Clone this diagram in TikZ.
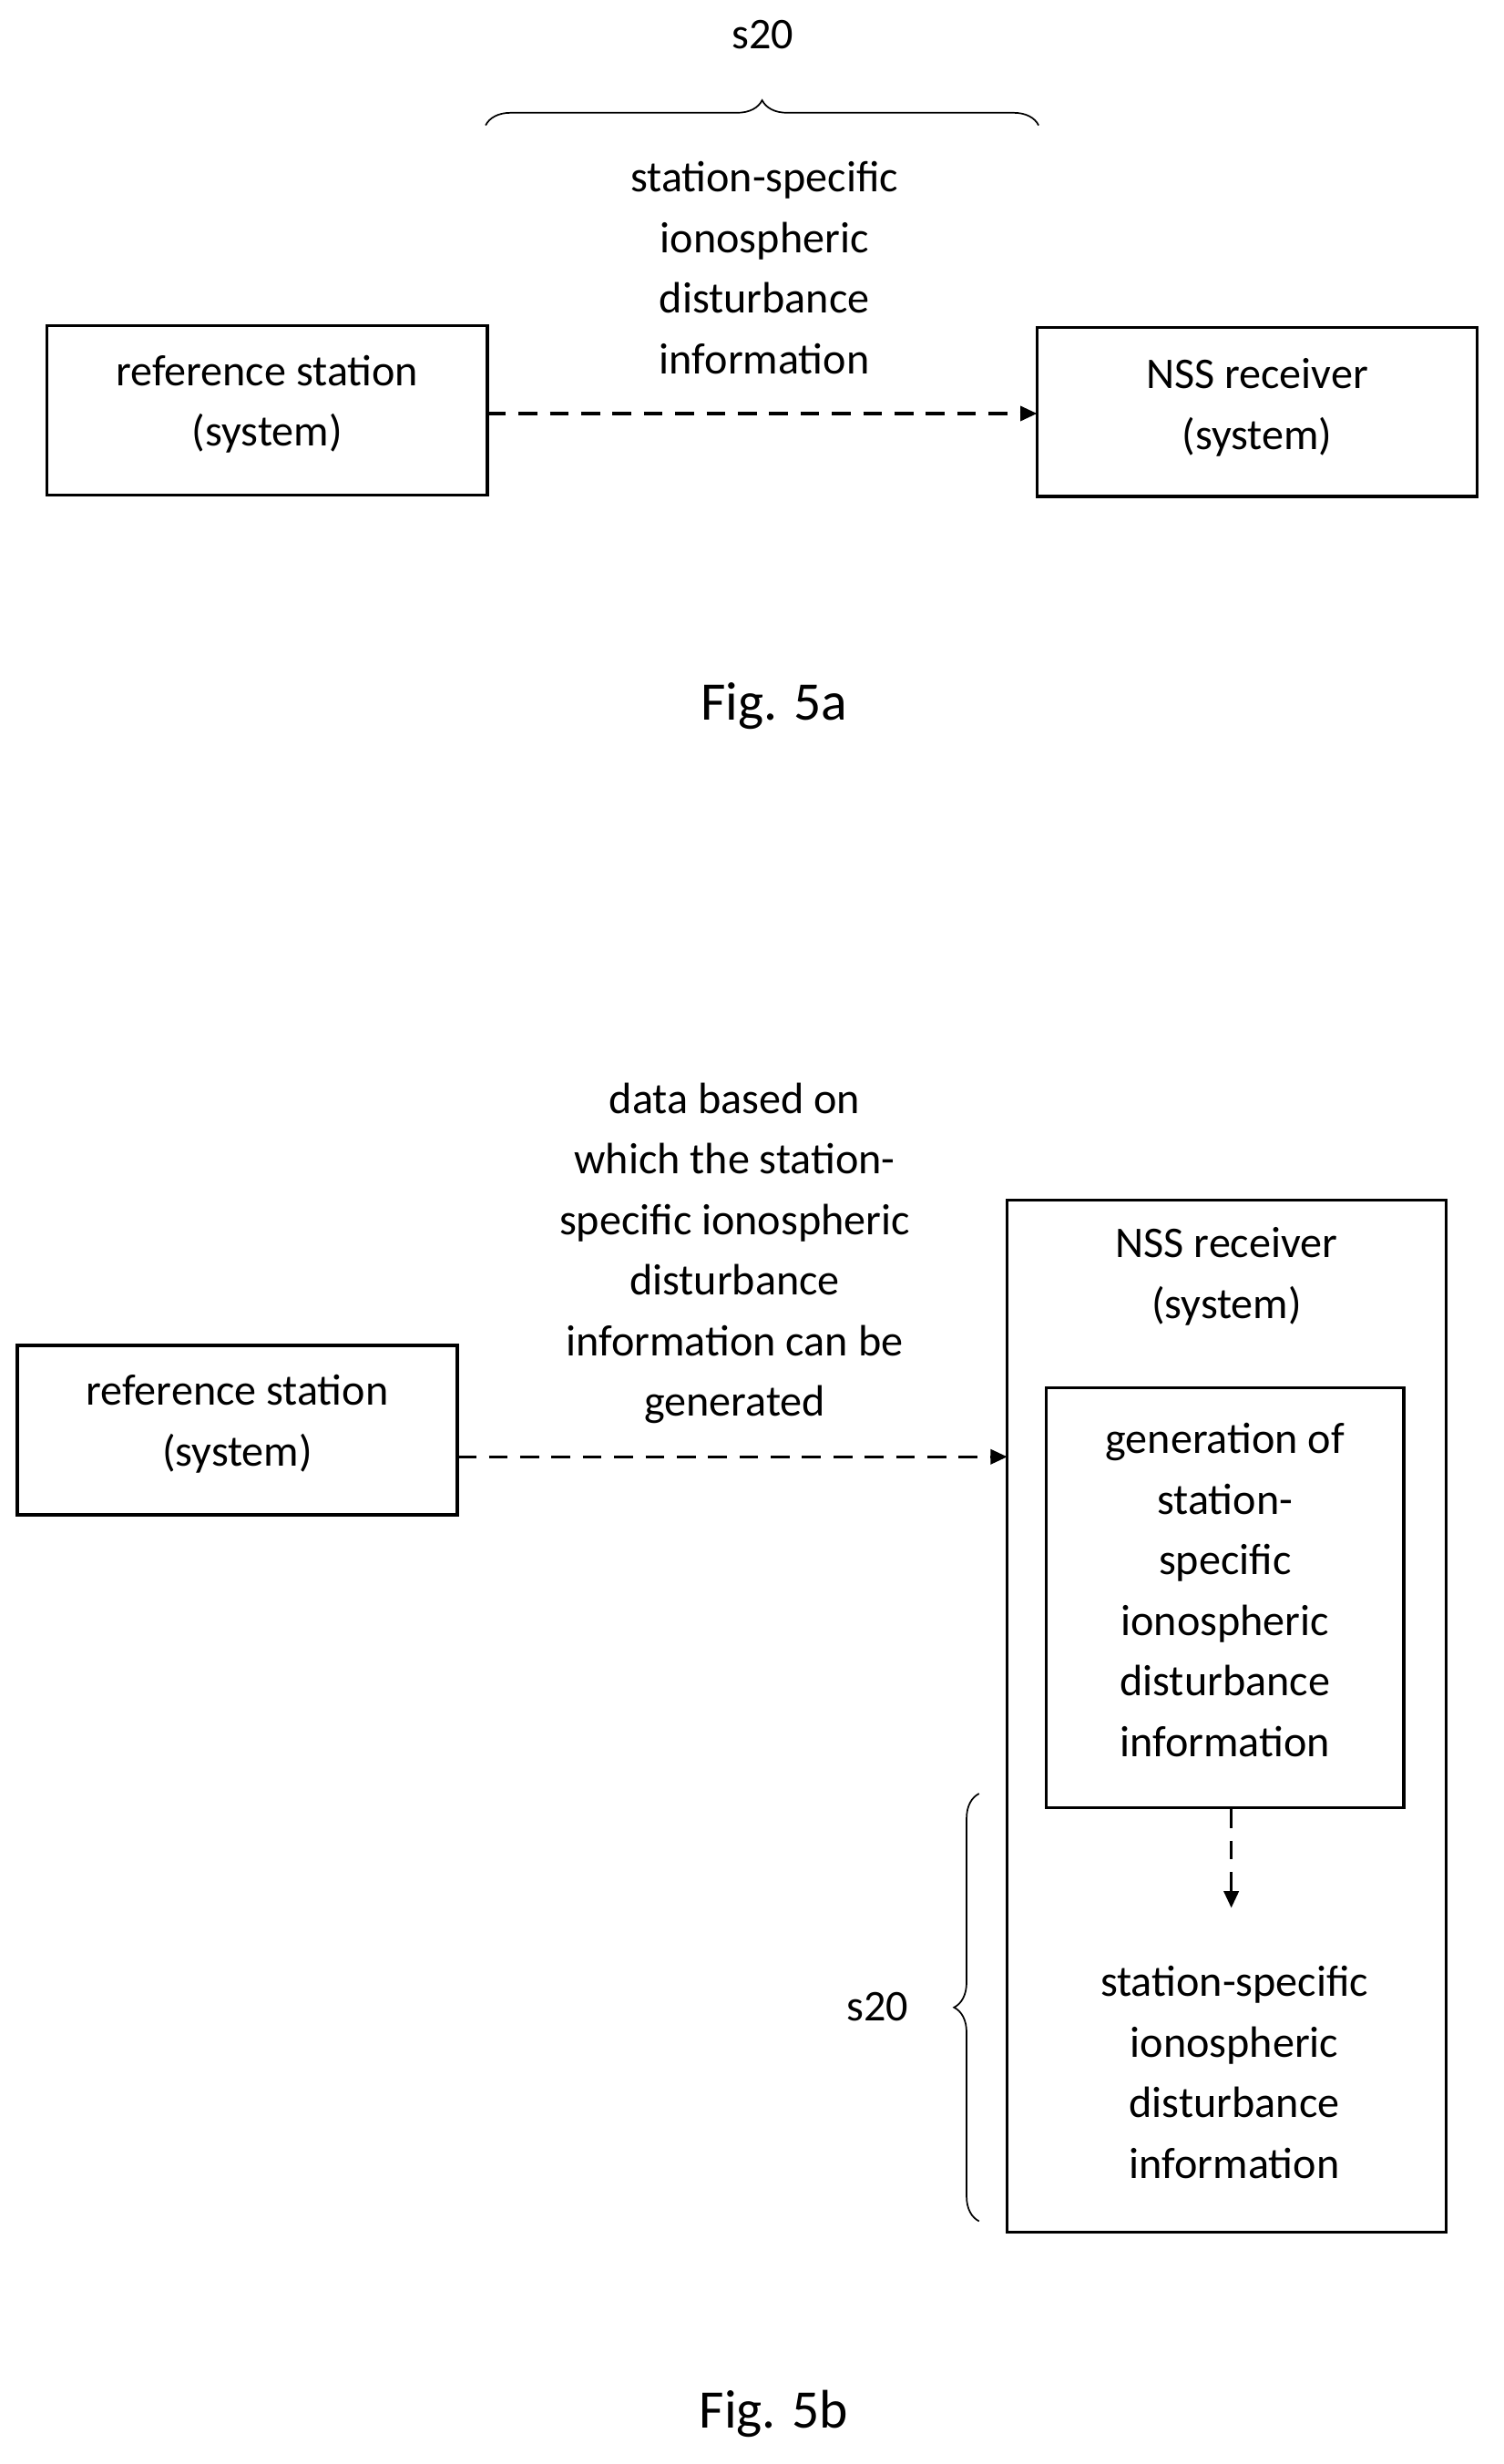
\documentclass[tikz,border=0pt]{standalone}
\usepackage{fontspec}
\setmainfont{Carlito}
\usetikzlibrary{decorations.pathreplacing,arrows.meta}
\tikzset{every picture/.style={line width=0.75pt}}
\tikzset{
  box/.style={draw, line width=1.5pt, inner sep=0pt},
  txt/.style={align=center, font=\fontsize{21}{29}\selectfont, inner sep=0.75pt},
  figlbl/.style={font=\fontsize{26}{30}\selectfont, inner sep=0.75pt},
  dasharrow/.style={line width=1.5pt, dash pattern=on 9pt off 6pt, -{Triangle[length=8pt,width=7pt]}},
  brc/.style={line width=0.75pt, decorate, decoration={brace, amplitude=12pt}}
}
\begin{document}
\begin{tikzpicture}[x=0.75pt,y=0.75pt,yscale=-1,xscale=1]
\useasboundingbox (0,0) rectangle (960,1573);

% Fig. 5a
\draw [box] (30,208) rectangle (311,316);
\draw [box] (662,209) rectangle (943,317);
\node (refa) [txt] at (170.5,258) {reference station\\(system)};
\node (nssa) [txt] at (802.5,260) {NSS receiver\\(system)};
\coordinate (refaE) at (311,264);
\coordinate (nssaW) at (662,264);
\draw [dasharrow] (refaE) -- (nssaW);
\node (infoa) [txt] at (488,171) {station-specific\\ionospheric\\disturbance\\information};
\draw [brc] (310,80) -- (663,80);
\node (s20a) [txt] at (487,22) {s20};
\node (figa) [figlbl] at (494,451) {Fig. 5a};

% Fig. 5b
\draw [box] (11,859) rectangle (292,967);
\draw [box] (643,766) rectangle (923,1425);
\draw [box] (668,886) rectangle (896,1154);
\node (refb) [txt] at (151.5,909) {reference station\\(system)};
\node (nssb) [txt] at (783,815) {NSS receiver\\(system)};
\coordinate (refbE) at (292,930);
\coordinate (nssbW) at (643,930);
\draw [dasharrow] (refbE) -- (nssbW);
\node (datab) [txt] at (469,800) {data based on\\which the station-\\specific ionospheric\\disturbance\\information can be\\generated};
\node (genb) [txt] at (782,1015) {generation of\\station-\\specific\\ionospheric\\disturbance\\information};
\coordinate (genS) at (786,1155);
\coordinate (infoN) at (786,1218);
\draw [dasharrow] (genS) -- (infoN);
\node (infob) [txt] at (788,1323) {station-specific\\ionospheric\\disturbance\\information};
\draw [brc] (625,1418) -- (625,1145);
\node (s20b) [txt] at (560,1281) {s20};
\node (figb) [figlbl] at (494,1541) {Fig. 5b};

\end{tikzpicture}
\end{document}
